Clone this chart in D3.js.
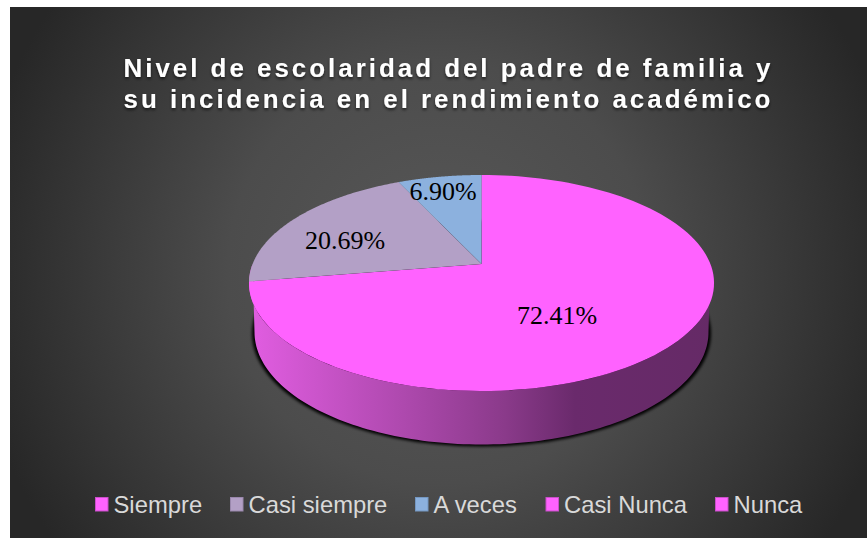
<!DOCTYPE html>
<html><head><meta charset="utf-8">
<script src="https://cdn.jsdelivr.net/npm/d3@7"></script>
<style>html,body{margin:0;padding:0;background:#fff}svg{display:block}</style>
</head><body><svg id="c" width="867" height="538"></svg>
<script>
const categories = ["Siempre","Casi siempre","A veces","Casi Nunca","Nunca"];
const values = [72.41,20.69,6.90,0,0];
const valueLabels = ["72.41%","20.69%","6.90%"];
const colors = ["#ff62ff","#b3a0c6","#8cb1de","#ff62ff","#ff62ff"];
const borders = ["#c94fc9","#9a88ad","#7497c2","#c94fc9","#c94fc9"];
const titleLines = ["Nivel de escolaridad del padre de familia y","su incidencia en el rendimiento académico"];

const svg = d3.select("#c");
const defs = svg.append("defs");
const bg = defs.append("radialGradient").attr("id","bg").attr("gradientUnits","userSpaceOnUse")
  .attr("cx",439).attr("cy",272).attr("r",470);
bg.append("stop").attr("offset","0").attr("stop-color","#585858");
bg.append("stop").attr("offset","0.45").attr("stop-color","#4c4c4c");
bg.append("stop").attr("offset","1").attr("stop-color","#272727");
const wall = defs.append("linearGradient").attr("id","wall").attr("gradientUnits","userSpaceOnUse")
  .attr("x1",250).attr("x2",714).attr("y1",0).attr("y2",0);
[[0,"#e15de1"],[0.33,"#ae49ae"],[0.55,"#8a3a8a"],[0.7,"#6a2a6c"],[1,"#652a66"]].forEach(s=>
  wall.append("stop").attr("offset",s[0]).attr("stop-color",s[1]));
defs.append("filter").attr("id","blur").attr("x","-10%").attr("y","-10%").attr("width","120%").attr("height","120%")
  .append("feGaussianBlur").attr("stdDeviation",1.8);
const ts = defs.append("filter").attr("id","tshadow").attr("x","-5%").attr("y","-20%").attr("width","110%").attr("height","150%");
ts.append("feDropShadow").attr("dx",0).attr("dy",2).attr("stdDeviation",1.8).attr("flood-color","#000").attr("flood-opacity",0.6);

svg.append("rect").attr("x",10).attr("y",7).attr("width",857).attr("height",531).attr("fill","url(#bg)");

// Perspective projection of the pie disc
const cx=481.5, apexY=264, P=0.176, A=104.66, S=228.9;
const proj = a => { const u=Math.sin(a), v=Math.cos(a), d=1+P*v; return [cx+S*u/d, apexY-A*v/d]; };
const bottomEllipse = {cx:481.5, cy:332, rx:227, ry:112.5};
const line = d3.line();
const arcPts = (a0,a1,f) => d3.range(0,121).map(i=>f(a0+(a1-a0)*i/120));

// shadow
svg.append("ellipse").attr("cx",481.5).attr("cy",333.5).attr("rx",229.5).attr("ry",113)
  .attr("fill","#000").attr("filter","url(#blur)");

// wall
const botPt = a => [bottomEllipse.cx+bottomEllipse.rx*Math.sin(a), bottomEllipse.cy-bottomEllipse.ry*Math.cos(a)];
const lo = Math.PI/2, hi = 3*Math.PI/2;
svg.append("path").attr("d", line(arcPts(lo,hi,proj).concat(arcPts(hi,lo,botPt)))+"Z").attr("fill","url(#wall)");

// top slices
const pie = d3.pie().sort(null).value(d=>d)(values);
svg.append("g").selectAll("path").data(pie.filter(d=>d.value>0)).join("path")
  .attr("d",d=>line([[cx,apexY]].concat(arcPts(d.startAngle,d.endAngle,proj)))+"Z")
  .attr("fill",d=>colors[d.index]);

// labels
const labelPos = [[557,315],[345,240],[443,191]];
svg.append("g").selectAll("text").data(valueLabels).join("text")
  .attr("x",(d,i)=>labelPos[i][0]).attr("y",(d,i)=>labelPos[i][1]).attr("dy","0.35em")
  .attr("text-anchor","middle").attr("fill","#000")
  .style("font","26px 'Liberation Serif'").text(d=>d);

// title
svg.append("g").attr("filter","url(#tshadow)").selectAll("text").data(titleLines).join("text")
  .attr("x",448.5).attr("y",(d,i)=>77+i*31).attr("text-anchor","middle").attr("fill","#fff")
  .style("font","bold 26px 'Liberation Sans'").style("letter-spacing","2.95px").text(d=>d);

// legend
const legendX=[95,230,415,545.5,715];
const lg = svg.append("g").selectAll("g").data(categories).join("g")
  .attr("transform",(d,i)=>`translate(${legendX[i]},497)`);
lg.append("rect").attr("x",0.5).attr("y",0.5).attr("width",12.5).attr("height",13.5)
  .attr("fill",(d,i)=>colors[i]).attr("stroke",(d,i)=>borders[i]).attr("stroke-width",1);
lg.append("text").attr("x",18.5).attr("y",15.5).attr("fill","#d9d9d9")
  .style("font","23.8px 'Liberation Sans'").text(d=>d);
</script></body></html>
